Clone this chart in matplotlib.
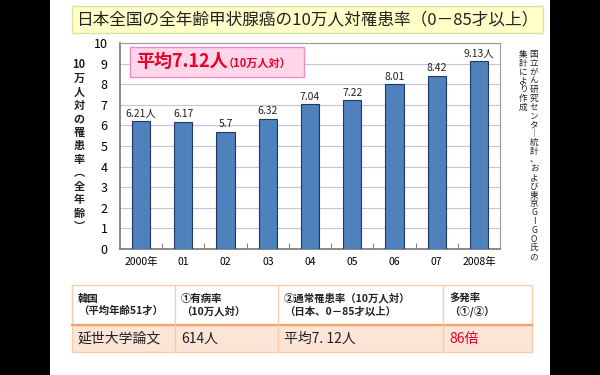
import matplotlib.pyplot as plt
from matplotlib.patches import Rectangle

plt.rcParams['font.family'] = ['Noto Sans CJK JP', 'DejaVu Sans']

# データ
years = ['2000年', '01', '02', '03', '04', '05', '06', '07', '2008年']
rates = [6.21, 6.17, 5.7, 6.32, 7.04, 7.22, 8.01, 8.42, 9.13]
bar_labels = ['6.21人', '6.17', '5.7', '6.32', '7.04', '7.22', '8.01', '8.42', '9.13人']

title = '日本全国の全年齢甲状腺癌の10万人対罹患率（0－85才以上）'
ylabel_chars = ['10', '万', '人', '対', 'の', '罹', '患', '率', '︵', '全', '年', '齢', '︶']
source_col1 = list('国立がん研究センタ') + ['｜'] + list('統計、および東京GIGO氏の')
source_col2 = list('集計により作成')

table_header = ['韓国\n（平均年齢51才）', '①有病率\n（10万人対）',
                '②通常罹患率（10万人対）\n（日本、0－85才以上）', '多発率\n（①/②）']
table_row = ['延世大学論文', '614人', '平均7. 12人', '86倍']
col_edges = [72, 175, 278, 443, 532]

W, H = 600, 375


def fx(x):
    return x / W


def fy(y):
    return 1 - y / H


fig = plt.figure(figsize=(6, 3.75), dpi=100)
fig.patch.set_facecolor('black')

# スライド部分（白）
fig.patches.append(Rectangle((fx(50), 0), fx(500), 1, transform=fig.transFigure,
                             facecolor='white', edgecolor='none', zorder=0))

# タイトル
fig.patches.append(Rectangle((fx(72), fy(33)), fx(471), 27 / H, transform=fig.transFigure,
                             facecolor='#FFFFC8', edgecolor='#D8E4A0', lw=1, zorder=1))
fig.text(fx(307), fy(20), title, ha='center', va='center', fontsize=12, color='#222222')

# グラフ
ax = fig.add_axes([fx(120), fy(249), 380 / W, 206 / H], zorder=5)
ax.set_facecolor('white')
x = list(range(len(years)))
ax.bar(x, rates, width=0.43, color='#4F81BD', edgecolor='#1F3864', linewidth=0.8, zorder=3)
for xi, v, lab in zip(x, rates, bar_labels):
    ax.text(xi, v + 0.12, lab, ha='center', va='bottom', fontsize=7.5, color='#222222')

ax.set_xlim(-0.5, len(years) - 0.5)
ax.set_ylim(0, 10)
ax.set_yticks(range(0, 11))
ax.yaxis.grid(True, color='#C9C0E4', lw=0.8, zorder=0)
ax.set_axisbelow(True)
ax.set_xticks(x)
ax.set_xticklabels(years, fontsize=7.5)
ax.set_xticks([i + 0.5 for i in x[:-1]], minor=True)
ax.tick_params(axis='x', which='major', length=0, pad=6)
ax.tick_params(axis='x', which='minor', length=4, direction='in', color='#666666')
ax.tick_params(axis='y', length=0, pad=9, labelsize=9)
for s in ['top', 'right']:
    ax.spines[s].set_color('#999999')
for s in ['left', 'bottom']:
    ax.spines[s].set_color('#777777')
    ax.spines[s].set_linewidth(1.2)

# 平均ボックス
ax.add_patch(Rectangle((-0.26, 8.35), 4.12, 1.45, facecolor='#FFD5EA', edgecolor='#F08CC0',
                       lw=1, zorder=4))
ax.text(-0.12, 9.08, '平均7.12人', fontsize=13, fontweight='bold', color='#E8002A',
        va='center', zorder=5)
ax.text(1.93, 9.03, '（10万人対）', fontsize=8, fontweight='bold', color='#E8002A',
        va='center', zorder=5)

# 縦書きラベル
fig.text(fx(79), fy(146), '\n'.join(ylabel_chars), ha='center', va='center', fontsize=8,
         fontweight='bold', linespacing=1.05, color='#222222')
fig.text(fx(534), fy(50), '\n'.join(source_col1), ha='center', va='top', fontsize=6.2,
         linespacing=0.97, color='#222222')
fig.text(fx(523), fy(50), '\n'.join(source_col2), ha='center', va='top', fontsize=6.2,
         linespacing=0.97, color='#222222')

# 表
top, mid, bot = 285, 325, 352
fig.patches.append(Rectangle((fx(col_edges[0]), fy(mid)), fx(col_edges[-1] - col_edges[0]),
                             (mid - top) / H, transform=fig.transFigure,
                             facecolor='white', edgecolor='#F8CBAD', lw=1, zorder=1))
fig.patches.append(Rectangle((fx(col_edges[0]), fy(bot)), fx(col_edges[-1] - col_edges[0]),
                             (bot - mid) / H, transform=fig.transFigure,
                             facecolor='#FCE4D6', edgecolor='#F8CBAD', lw=1, zorder=1))
fig.add_artist(plt.Line2D([fx(col_edges[0]), fx(col_edges[-1])], [fy(mid), fy(mid)],
                          transform=fig.transFigure, color='#F4A460', lw=1.6))
for ce in col_edges[1:-1]:
    fig.add_artist(plt.Line2D([fx(ce), fx(ce)], [fy(top), fy(bot)],
                              transform=fig.transFigure, color='#F8CBAD', lw=1))
for i, (h, r) in enumerate(zip(table_header, table_row)):
    fig.text(fx(col_edges[i] + 6), fy((top + mid) / 2), h, ha='left', va='center',
             fontsize=7.5, fontweight='bold', linespacing=1.3, color='#222222')
    fig.text(fx(col_edges[i] + 6), fy((mid + bot) / 2), r, ha='left', va='center',
             fontsize=10, color='#E8002A' if i == 3 else '#222222')

fig.savefig('out.png', dpi=100, facecolor='black')
